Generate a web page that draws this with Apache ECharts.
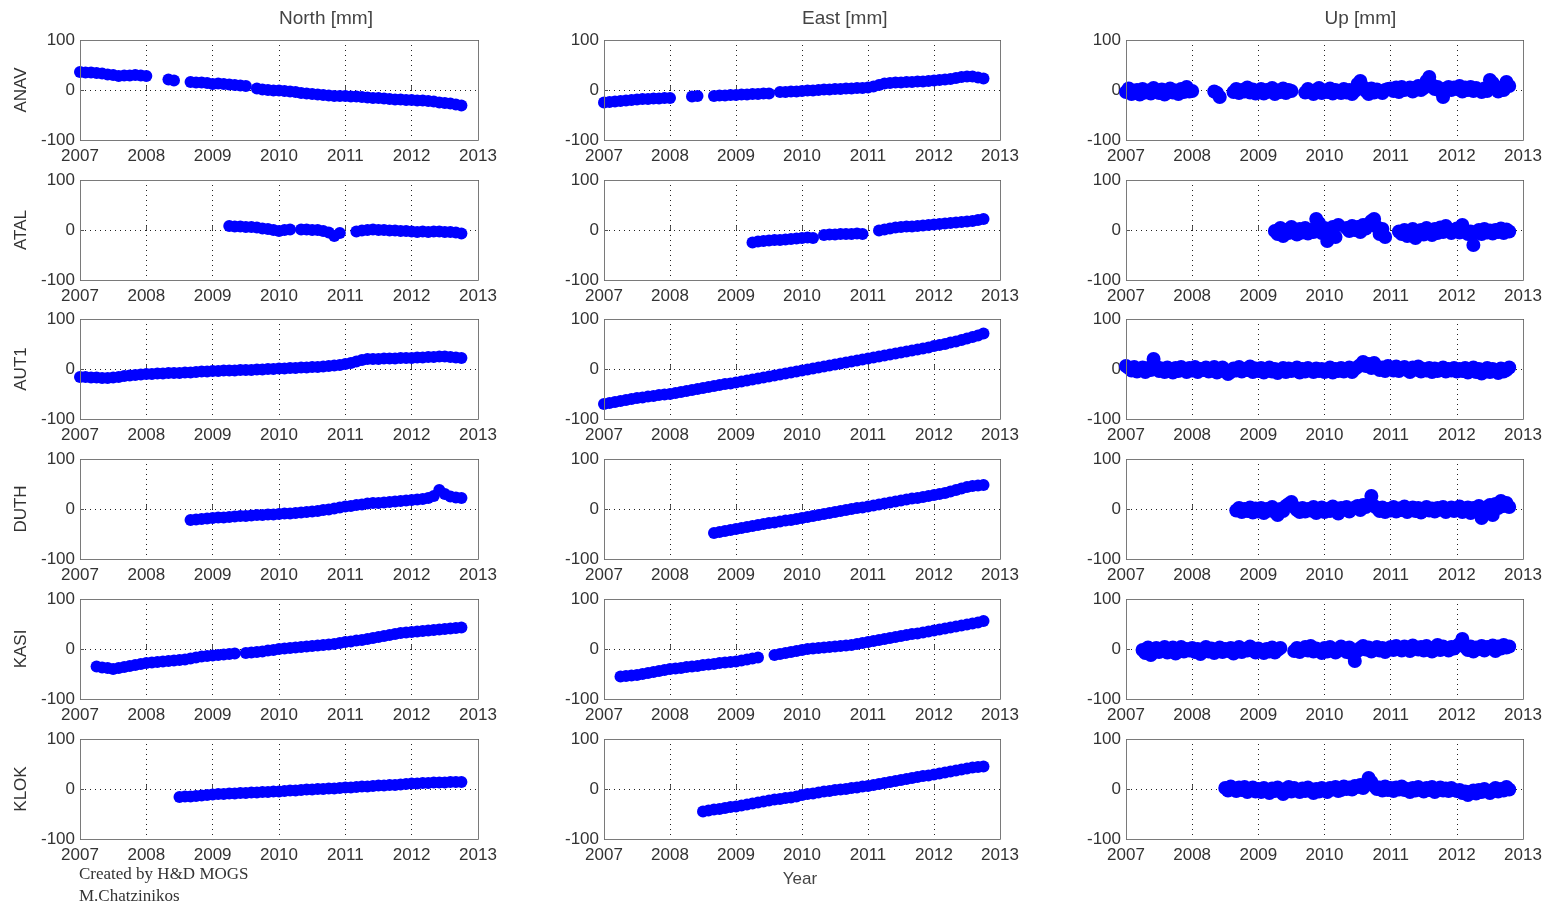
<!DOCTYPE html>
<html>
<head>
<meta charset="utf-8">
<script src="https://cdn.jsdelivr.net/npm/echarts@6/dist/echarts.min.js"></script>
<style>
html,body{margin:0;padding:0;background:#fff;}
#chart{width:1554px;height:904px;}
</style>
</head>
<body>
<div id="chart"></div>
<script>
// ---------- labels ----------
const stations = ['ANAV', 'ATAL', 'AUT1', 'DUTH', 'KASI', 'KLOK'];
const components = ['North [mm]', 'East [mm]', 'Up [mm]'];
const xTicks = [2007, 2008, 2009, 2010, 2011, 2012, 2013];
const yTicks = [-100, 0, 100];
const xLabel = 'Year';
const credits = ['Created by H&D MOGS', 'M.Chatzinikos'];

// samples per year: North/East arrays are monthly, Up arrays are semi-monthly
const samplesPerYear = [12, 12, 24];

// ---------- data (mm), first sample at *_start (decimal year) ----------
const ANAV_start = 2007.0;
const ANAV_N = [36,35,35,34,33,31,30,28,29,29,30,29,
  28,null,null,null,21,19,null,null,16,15,15,14,
  12,13,12,11,10,9,8,null,3,1,0,-1,
  -1,-2,-3,-4,-6,-7,-8,-9,-10,-11,-12,-12,
  -12,-13,-13,-14,-15,-16,-16,-17,-18,-19,-19,-20,
  -20,-21,-21,-22,-23,-25,-26,-27,-29,-31];
const ANAV_E = [-25,-24,-23,-22,-21,-20,-19,-18,-18,-17,-17,-16,
  -16,null,null,null,-13,-12,null,null,-12,-11,-11,-10,
  -10,-9,-9,-8,-8,-7,-7,null,-4,-4,-3,-3,
  -2,-1,-1,0,1,1,2,2,3,3,4,4,
  5,7,10,13,14,15,15,16,16,17,17,18,
  19,20,21,22,24,26,27,27,25,23];
const ANAV_U = [-4,3,-8,-2,0,-9,2,-5,-1,-7,4,-3,-6,1,-9,-2,3,-5,-1,-8,2,-4,6,-3,
  -2,null,null,null,null,null,null,null,-3,-6,-14,null,null,null,null,-4,2,-6,0,-3,5,-5,1,-7,
  -5,2,-7,0,-3,4,-8,-1,-4,3,-6,0,-2,null,null,null,null,-5,2,-3,-8,0,4,-6,
  -1,-4,3,-7,0,-3,-6,2,-5,0,-8,-2,12,18,6,-2,-8,3,-5,1,-3,-6,0,2,
  3,-2,5,-4,6,0,2,5,-3,4,8,0,4,18,26,10,2,6,-2,-14,3,6,0,5,
  2,8,-3,5,0,6,-2,4,0,-4,3,-2,20,14,3,-3,5,0,16,8];

const ATAL_start = 2009.25;
const ATAL_N = [8,7,7,6,6,5,3,2,0,-2,0,1,
  null,1,1,0,0,-2,-5,-12,-6,null,null,
  -3,-1,0,1,0,0,-1,-1,-2,-2,-3,-4,-3,-4,-3,-3,-4,-4,-5,-7];
const ATAL_E = [-25,-23,-22,-21,-20,-20,-19,-18,-17,-16,-15,-16,
  null,-10,-9,-9,-8,-8,-8,-7,-8,null,null,
  -1,1,3,5,6,7,7,8,9,10,11,12,13,14,15,16,17,18,20,22];
const ATAL_U = [-2,-8,4,-12,0,-6,6,-3,-9,2,-5,4,-7,0,-4,22,14,-6,4,-22,-10,6,-14,10,
  null,null,
  4,-2,8,0,6,-4,10,3,12,18,22,6,-8,2,-14,
  null,null,null,null,
  -3,-8,0,-12,-5,2,-16,-6,0,-9,4,-3,-10,2,-6,5,-4,8,-2,-6,0,3,-5,10,-2,-8,-3,-30,-6,0,-8,2,-5,-1,-7,0,-4,3,-6,1,-3];

const AUT1_start = 2007.0;
const AUT1_N = [-16,-16,-17,-17,-18,-18,-17,-16,-14,-13,-12,-11,
  -10,-10,-9,-9,-8,-8,-8,-7,-7,-6,-5,-5,
  -4,-4,-3,-3,-3,-2,-2,-2,-1,-1,0,0,
  1,1,2,2,3,3,4,4,5,6,7,8,
  10,12,15,18,20,20,20,21,21,21,22,22,
  22,23,23,24,24,25,25,24,23,22];
const AUT1_E = [-70,-68,-66,-64,-62,-60,-58,-57,-55,-54,-52,-51,
  -50,-48,-46,-44,-42,-40,-38,-36,-34,-32,-30,-29,
  -27,-25,-23,-21,-19,-17,-15,-13,-11,-9,-7,-5,
  -3,-1,1,3,5,7,9,11,13,15,17,19,
  21,23,25,27,29,31,33,35,37,39,41,43,
  46,48,50,53,55,58,61,64,67,71];
const AUT1_U = [6,2,-3,4,-5,0,3,-6,2,-2,20,5,-4,1,-6,3,-2,-7,2,-4,4,-1,-6,2,
  -3,4,-6,0,-2,3,-5,-1,4,-7,-2,3,-4,-10,-6,1,-3,4,-5,0,-2,5,-6,1,
  -4,2,-7,-1,3,-5,0,-8,-3,2,-6,1,-4,-2,3,-7,0,-5,2,-3,-6,1,-4,0,
  -6,-2,3,-7,0,-4,2,-5,-1,3,-6,0,4,8,14,6,10,2,12,5,-2,3,-4,6,
  2,-3,5,-4,0,4,-2,-6,3,-1,5,-5,0,-3,2,-6,1,-4,-2,3,-5,0,-3,2,
  -5,0,-4,2,-7,-1,3,-6,0,-9,-3,2,-6,0,-4,-8,1,-5,-2,3];

const DUTH_start = 2008.6667;
const DUTH_N = [-22,-21,-20,-19,
  -18,-17,-17,-16,-15,-14,-14,-13,-12,-12,-11,-11,
  -10,-9,-9,-8,-7,-6,-5,-4,-2,-1,1,3,
  5,6,8,9,11,12,12,13,14,15,16,17,
  18,19,20,22,26,38,30,25,23,22];
const DUTH_E = [-48,-46,-44,-42,
  -40,-38,-36,-34,-32,-30,-28,-27,-25,-23,-22,-20,
  -18,-16,-14,-12,-10,-8,-6,-4,-2,0,2,3,
  5,7,9,11,13,15,17,19,21,22,24,26,
  28,30,32,35,38,41,44,46,47,48];
const DUTH_U = [-3,2,-6,0,-4,3,-7,1,
  -5,2,-8,0,-3,4,-6,-12,0,-4,6,10,14,4,-2,-6,2,-5,0,-3,4,-8,-2,3,
  -6,0,-4,5,-3,-9,2,-1,4,-5,0,3,6,-2,8,4,10,26,6,2,-4,3,-6,0,
  -3,4,-5,1,-2,5,-6,0,3,-4,2,-7,0,4,-3,1,-5,2,-1,4,-6,0,3,-4,
  -2,5,-6,0,3,-8,2,-4,6,-18,-10,4,8,-12,10,2,16,6,12,4];

const KASI_start = 2007.25;
const KASI_N = [-35,-37,-38,-40,-38,-36,-34,-32,-30,
  -28,-27,-26,-25,-24,-23,-22,-21,-19,-17,-15,-14,
  -13,-12,-11,-10,-9,null,-8,-7,-6,-5,-3,-2,
  0,1,2,3,4,5,6,7,8,9,10,12,
  14,15,17,18,20,22,24,26,28,30,32,33,
  34,35,36,37,38,39,40,41,42,43];
const KASI_E = [-55,-54,-53,-52,-50,-48,-46,-44,-42,
  -40,-39,-38,-36,-35,-34,-32,-31,-30,-28,-27,-26,
  -25,-23,-21,-19,-17,null,null,-12,-10,-8,-6,-4,
  -2,0,1,2,3,4,5,6,7,8,10,12,
  14,16,18,20,22,24,26,28,30,31,33,35,
  37,39,41,43,45,47,49,51,53,56];
const KASI_U = [-2,-8,3,-12,-4,2,-6,0,4,-7,-2,3,-9,-1,4,-5,0,-3,
  2,-6,0,-10,-3,4,-5,1,-8,-2,3,-6,0,-4,2,-9,-1,4,-6,0,-3,5,-2,-7,
  1,-4,-8,0,-5,3,-7,-2,2,null,null,null,null,-4,2,-6,0,4,-3,6,-5,1,-2,-8,
  2,-5,4,-3,-7,0,5,-2,-6,3,-10,-24,-4,2,6,-1,3,-5,0,4,-3,2,-6,1,
  4,-2,6,0,-3,5,1,-4,7,2,-1,4,-3,6,0,-5,3,8,-2,5,0,-3,4,1,
  6,10,20,4,-2,5,-5,3,0,6,-3,4,2,7,-4,5,1,8,3,5];

const KLOK_start = 2008.5;
const KLOK_N = [-16,-15,-15,-14,-13,-12,
  -11,-10,-10,-9,-9,-8,-8,-7,-7,-6,-6,-5,
  -5,-4,-3,-3,-2,-1,-1,0,0,1,1,2,
  3,3,4,5,5,6,7,7,8,8,9,10,
  11,11,12,12,13,13,13,14,14,14];
const KLOK_E = [-45,-43,-41,-40,-38,-36,
  -35,-33,-31,-29,-27,-25,-23,-21,-20,-18,-17,-15,
  -12,-10,-9,-7,-5,-4,-2,-1,0,2,3,5,
  6,8,10,12,14,16,18,20,22,24,26,27,
  29,31,33,35,37,39,41,43,44,45];
const KLOK_U = [2,-3,5,-1,-4,3,-2,4,-6,0,3,-5,
  0,-6,2,-3,-8,1,-4,3,-2,-10,0,4,-5,2,-3,-6,1,-4,3,-2,-8,0,-5,2,
  -3,-6,2,-1,4,-4,-2,5,0,3,-1,6,4,8,2,10,22,14,6,0,3,-3,5,-2,
  2,-4,3,-1,5,-2,0,-6,2,-3,4,-1,-5,2,-2,4,-6,0,3,-3,1,-4,2,-2,
  -4,-2,-8,-5,-12,-6,-3,-9,-2,-6,0,-4,-8,-2,2,-5,0,-3,4,-1];

const seriesTable = [
  [ANAV_start, ANAV_N, ANAV_E, ANAV_U],
  [ATAL_start, ATAL_N, ATAL_E, ATAL_U],
  [AUT1_start, AUT1_N, AUT1_E, AUT1_U],
  [DUTH_start, DUTH_N, DUTH_E, DUTH_U],
  [KASI_start, KASI_N, KASI_E, KASI_U],
  [KLOK_start, KLOK_N, KLOK_E, KLOK_U]
];

// ---------- layout ----------
const colLeft = [80, 604, 1126];
const colWidth = [398, 396, 397];
const rowTop = [40, 180, 319, 459, 599, 739];
const rowHeight = 100;
const FONT = '"Liberation Sans", Arial, sans-serif';
const TXT = '#333';

const grids = [], xAxes = [], yAxes = [], series = [], graphics = [];
let k = 0;
for (let r = 0; r < stations.length; r++) {
  for (let c = 0; c < components.length; c++) {
    grids.push({
      left: colLeft[c], top: rowTop[r], width: colWidth[c], height: rowHeight, show: false
    });
    xAxes.push({
      gridIndex: k, type: 'value', min: xTicks[0], max: xTicks[xTicks.length - 1], interval: 1,
      axisLine: { show: false },
      axisTick: { show: true, inside: true, length: 4, lineStyle: { color: '#555' } },
      axisLabel: { fontSize: 17, color: TXT, fontFamily: FONT, margin: 8, formatter: v => String(v),
        showMinLabel: true, showMaxLabel: true, hideOverlap: false },
      splitLine: { show: true, lineStyle: { type: [1, 4], color: '#222', width: 1 } }
    });
    yAxes.push({
      gridIndex: k, type: 'value', min: yTicks[0], max: yTicks[yTicks.length - 1], interval: 100,
      axisLine: { show: false },
      axisTick: { show: true, inside: true, length: 4, lineStyle: { color: '#555' } },
      axisLabel: { fontSize: 17, color: TXT, fontFamily: FONT, margin: 5, formatter: v => String(v),
        showMinLabel: true, showMaxLabel: true },
      splitLine: { show: true, lineStyle: { type: [1, 4], color: '#222', width: 1 } },
      name: c === 0 ? stations[r] : '',
      nameLocation: 'middle', nameRotate: 90, nameGap: 50,
      nameTextStyle: { fontSize: 17, color: TXT, fontFamily: FONT }
    });
    const row = seriesTable[r];
    const start = row[0];
    const vals = row[c + 1];
    const per = samplesPerYear[c];
    const data = vals.map((v, i) => [start + i / per, v]);
    series.push({
      type: 'scatter', xAxisIndex: k, yAxisIndex: k, data: data,
      symbol: 'circle', symbolSize: c === 2 ? 14 : 12,
      itemStyle: { color: '#0000ff', opacity: 1 },
      silent: true
    });
    graphics.push({
      type: 'rect', z: 100, silent: true,
      shape: { x: colLeft[c] + 0.5, y: rowTop[r] + 0.5, width: colWidth[c], height: rowHeight },
      style: { fill: null, stroke: '#7a7a7a', lineWidth: 1 }
    });
    k++;
  }
}

for (let c = 0; c < components.length; c++) {
  graphics.push({ type: 'text', left: colLeft[c] + colWidth[c] / 2, top: 9,
    style: { text: components[c], fontSize: 19, fill: '#444', fontFamily: FONT, textAlign: 'center' } });
}
graphics.push({ type: 'text', x: 800, y: 871,
  style: { text: xLabel, fontSize: 17, fill: '#444', fontFamily: FONT, textAlign: 'center' } });
graphics.push({ type: 'text', x: 79, y: 866,
  style: { text: credits[0], fontSize: 17, fill: '#333', fontFamily: '"Liberation Serif", serif' } });
graphics.push({ type: 'text', x: 79, y: 888,
  style: { text: credits[1], fontSize: 17, fill: '#333', fontFamily: '"Liberation Serif", serif' } });

const chart = echarts.init(document.getElementById('chart'), null, { renderer: 'canvas' });
chart.setOption({
  animation: false,
  backgroundColor: '#fff',
  grid: grids, xAxis: xAxes, yAxis: yAxes, series: series,
  graphic: graphics
});
</script>
</body>
</html>
